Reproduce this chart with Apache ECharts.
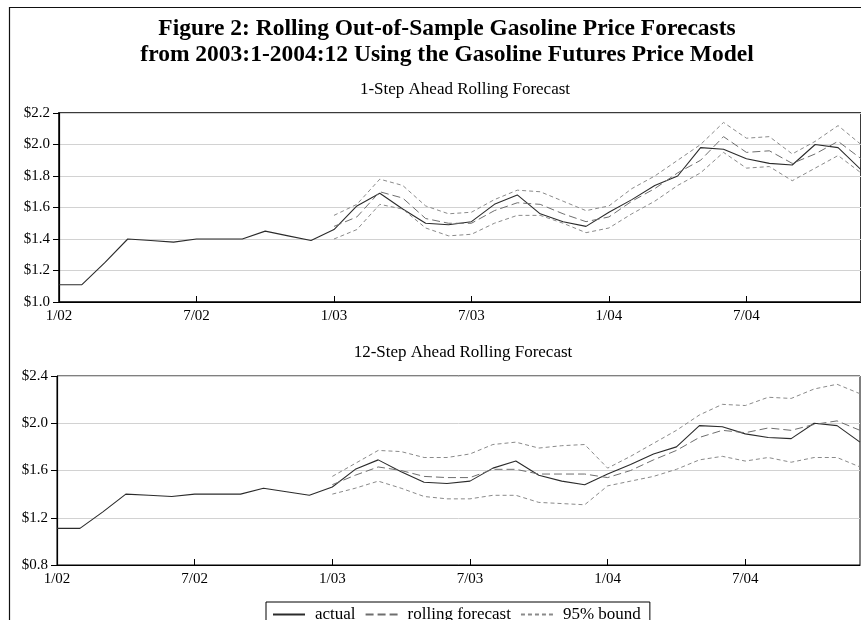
<!DOCTYPE html>
<html>
<head>
<meta charset="utf-8">
<script src="https://cdn.jsdelivr.net/npm/echarts@6/dist/echarts.min.js"></script>
<style>
  html, body { margin: 0; padding: 0; background: #fff; }
  #chart { width: 861px; height: 620px; }
</style>
</head>
<body>
<div id="chart"></div>
<script>
// Monthly axis, January 2002 through December 2004
const months = [
  '1/02','2/02','3/02','4/02','5/02','6/02','7/02','8/02','9/02','10/02','11/02','12/02',
  '1/03','2/03','3/03','4/03','5/03','6/03','7/03','8/03','9/03','10/03','11/03','12/03',
  '1/04','2/04','3/04','4/04','5/04','6/04','7/04','8/04','9/04','10/04','11/04','12/04'
];

// Actual retail gasoline price ($/gal)
const actual = [
  1.11, 1.11, 1.25, 1.40, 1.39, 1.38, 1.40, 1.40, 1.40, 1.45, 1.42, 1.39,
  1.46, 1.61, 1.69, 1.59, 1.50, 1.49, 1.51, 1.62, 1.68, 1.56, 1.51, 1.48,
  1.57, 1.65, 1.74, 1.80, 1.98, 1.97, 1.91, 1.88, 1.87, 2.00, 1.98, 1.84
];

// Forecast window starts at 1/03
const forecastStart = 12;

// 1-step ahead rolling forecast and 95% bounds (1/03 - 12/04)
const fc1 = [
  1.48, 1.54, 1.70, 1.66, 1.53, 1.50, 1.50, 1.58, 1.63, 1.62, 1.56, 1.51,
  1.54, 1.64, 1.72, 1.82, 1.90, 2.05, 1.95, 1.96, 1.88, 1.94, 2.02, 1.91
];
const up1 = [
  1.55, 1.62, 1.78, 1.74, 1.61, 1.56, 1.57, 1.65, 1.71, 1.70, 1.64, 1.58,
  1.61, 1.72, 1.80, 1.90, 2.00, 2.14, 2.04, 2.05, 1.94, 2.02, 2.12, 2.00
];
const lo1 = [
  1.40, 1.46, 1.62, 1.59, 1.47, 1.42, 1.43, 1.50, 1.55, 1.55, 1.50, 1.44,
  1.47, 1.56, 1.64, 1.74, 1.82, 1.95, 1.85, 1.86, 1.77, 1.85, 1.93, 1.82
];

// 12-step ahead rolling forecast and 95% bounds (1/03 - 12/04)
const fc12 = [
  1.48, 1.56, 1.63, 1.60, 1.55, 1.54, 1.54, 1.61, 1.61, 1.57, 1.57, 1.57,
  1.54, 1.60, 1.69, 1.77, 1.88, 1.94, 1.92, 1.96, 1.94, 1.99, 2.02, 1.94
];
const up12 = [
  1.55, 1.66, 1.77, 1.76, 1.71, 1.71, 1.74, 1.82, 1.84, 1.79, 1.81, 1.82,
  1.62, 1.72, 1.83, 1.94, 2.07, 2.16, 2.15, 2.22, 2.21, 2.29, 2.33, 2.25
];
const lo12 = [
  1.40, 1.45, 1.51, 1.45, 1.38, 1.36, 1.36, 1.39, 1.39, 1.33, 1.32, 1.31,
  1.47, 1.51, 1.55, 1.61, 1.69, 1.72, 1.68, 1.71, 1.67, 1.71, 1.71, 1.63
];

const seriesNames = ['actual', 'rolling forecast', '95% bound'];

const SERIF = '"Liberation Serif", "Times New Roman", serif';

function pad(arr) {
  const out = new Array(forecastStart).fill(null);
  return out.concat(arr);
}

const styles = {
  actual:   { color: '#2b2b2b', width: 1.1, type: 'solid' },
  forecast: { color: '#6e6e6e', width: 1, type: [8, 4] },
  bound:    { color: '#8a8a8a', width: 1, type: [4, 3] }
};

function line(name, data, idx, st) {
  return {
    name: name,
    type: 'line',
    xAxisIndex: idx,
    yAxisIndex: idx,
    data: data,
    showSymbol: false,
    symbol: 'none',
    connectNulls: false,
    silent: true,
    animation: false,
    itemStyle: { color: st.color },
    lineStyle: { color: st.color, width: st.width, type: st.type }
  };
}

function xAxis(idx) {
  return {
    type: 'category',
    gridIndex: idx,
    data: months,
    boundaryGap: false,
    axisLine: { show: true, lineStyle: { color: '#000', width: 1.2 } },
    axisTick: { show: true, inside: true, length: 6, interval: 5, lineStyle: { color: '#000' } },
    axisLabel: { interval: 5, margin: 7, color: '#000', fontFamily: SERIF, fontSize: 15 },
    splitLine: { show: false }
  };
}

function yAxis(idx, min, max, step) {
  return {
    type: 'value',
    gridIndex: idx,
    min: min,
    max: max,
    interval: step,
    axisLine: { show: true, lineStyle: { color: '#000', width: 1.2 } },
    axisTick: { show: true, length: 6, lineStyle: { color: '#000' } },
    axisLabel: {
      margin: 9, color: '#000', fontFamily: SERIF, fontSize: 15,
      formatter: v => '$' + v.toFixed(1)
    },
    splitLine: { show: true, lineStyle: { color: '#d2d2d2', width: 1 } }
  };
}

const chart = echarts.init(document.getElementById('chart'), null, { renderer: 'canvas' });

chart.setOption({
  backgroundColor: '#fff',
  animation: false,
  title: [
    {
      text: 'Figure 2: Rolling Out-of-Sample Gasoline Price Forecasts\nfrom 2003:1-2004:12 Using the Gasoline Futures Price Model',
      left: 442, top: 11, textAlign: 'center',
      textStyle: { fontFamily: SERIF, fontWeight: 'bold', fontSize: 23.5, lineHeight: 26, color: '#000' }
    },
    {
      text: '1-Step Ahead Rolling Forecast',
      left: 460, top: 76, textAlign: 'center',
      textStyle: { fontFamily: SERIF, fontWeight: 'normal', fontSize: 17, color: '#000' }
    },
    {
      text: '12-Step Ahead Rolling Forecast',
      left: 458, top: 339, textAlign: 'center',
      textStyle: { fontFamily: SERIF, fontWeight: 'normal', fontSize: 17, color: '#000' }
    }
  ],
  legend: {
    data: seriesNames,
    left: 266, top: 602,
    orient: 'horizontal',
    itemWidth: 32, itemHeight: 12, itemGap: 9,
    padding: [4, 9, 4, 6],
    borderColor: '#000', borderWidth: 1,
    backgroundColor: '#fff',
    itemStyle: { opacity: 0 },
    textStyle: { fontFamily: SERIF, fontSize: 17, color: '#000', padding: [0, 0, 0, 5] },
    selectedMode: false
  },
  grid: [
    { left: 59, top: 113, width: 805, height: 189, show: true, borderColor: '#3a3a3a', borderWidth: 2, containLabel: false },
    { left: 57, top: 376, width: 803, height: 189, show: true, borderColor: '#000', borderWidth: 1, containLabel: false }
  ],
  xAxis: [xAxis(0), xAxis(1)],
  yAxis: [yAxis(0, 1.0, 2.2, 0.2), yAxis(1, 0.8, 2.4, 0.4)],
  series: [
    line('actual', actual, 0, styles.actual),
    line('rolling forecast', pad(fc1), 0, styles.forecast),
    line('95% bound', pad(up1), 0, styles.bound),
    line('95% bound', pad(lo1), 0, styles.bound),
    line('actual', actual, 1, styles.actual),
    line('rolling forecast', pad(fc12), 1, styles.forecast),
    line('95% bound', pad(up12), 1, styles.bound),
    line('95% bound', pad(lo12), 1, styles.bound)
  ],
  graphic: [
    {
      type: 'rect',
      silent: true,
      z: -10,
      shape: { x: 9.5, y: 7.5, width: 900, height: 700 },
      style: { fill: null, stroke: '#111', lineWidth: 1.2 }
    }
  ]
});
</script>
</body>
</html>
